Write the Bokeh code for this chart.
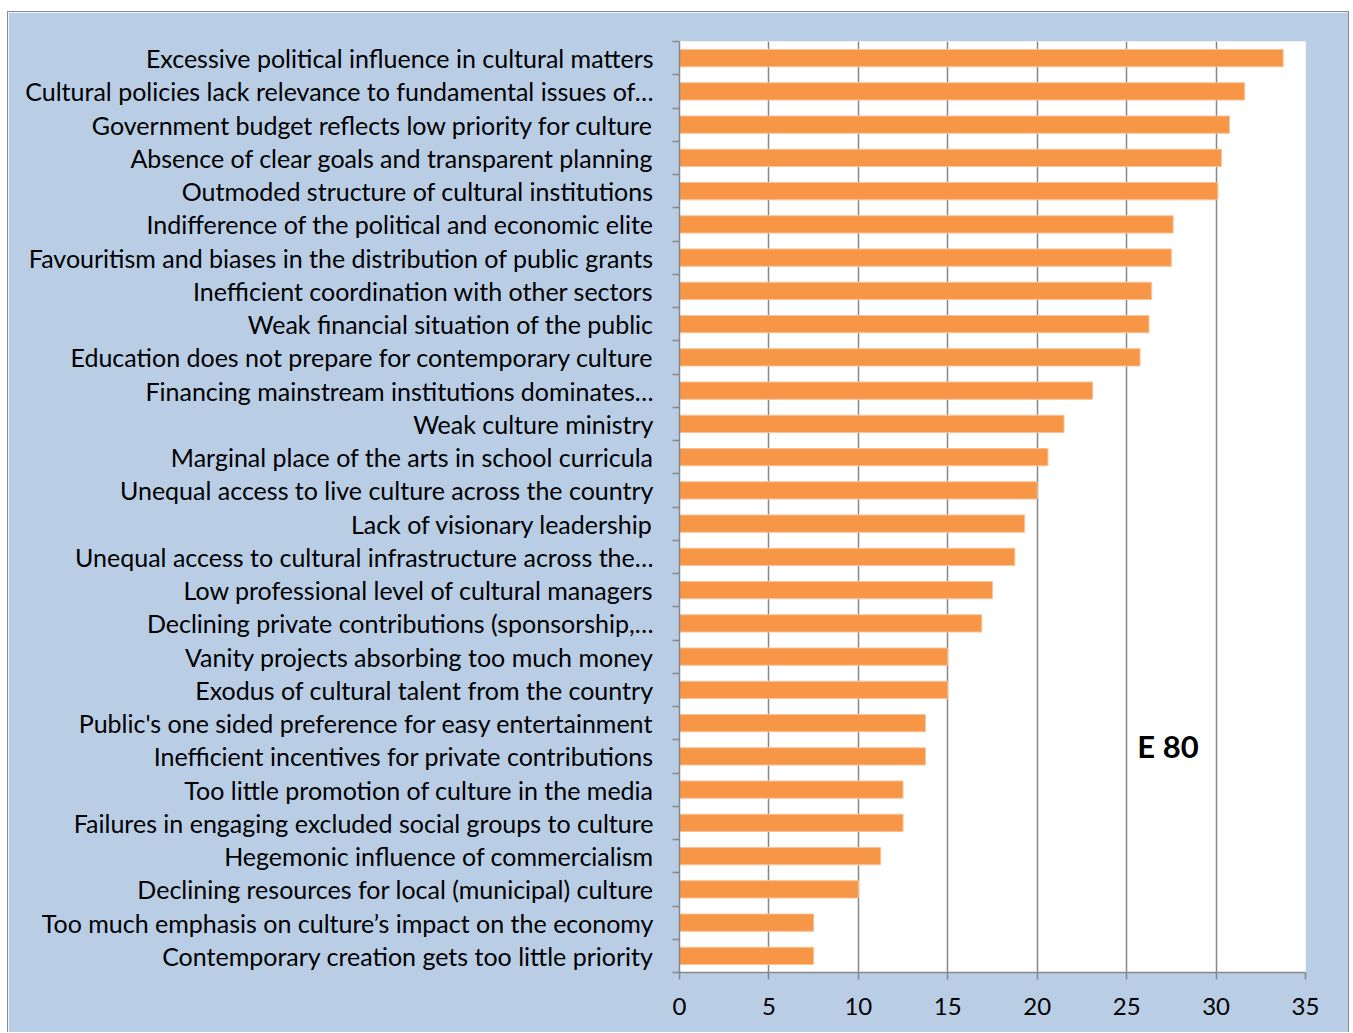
from bokeh.plotting import figure
from bokeh.models import Range1d, FixedTicker, Label, ColumnDataSource
from bokeh.embed import file_html
from bokeh.resources import INLINE

categories = [
    "Excessive political influence in cultural matters",
    "Cultural policies lack relevance to fundamental issues of\u2026",
    "Government budget reflects low priority for culture",
    "Absence of clear goals and transparent planning",
    "Outmoded structure of cultural institutions",
    "Indifference of the political and economic elite",
    "Favouritism and biases in the distribution of public grants",
    "Inefficient coordination with other sectors",
    "Weak financial situation of the public",
    "Education does not prepare for contemporary culture",
    "Financing mainstream institutions dominates\u2026",
    "Weak culture ministry",
    "Marginal place of the arts in school curricula",
    "Unequal access to live culture across the country",
    "Lack of visionary leadership",
    "Unequal access to cultural infrastructure across the\u2026",
    "Low professional level of cultural managers",
    "Declining private contributions (sponsorship,\u2026",
    "Vanity projects absorbing too much money",
    "Exodus of cultural talent from the country",
    "Public's one sided preference for easy entertainment",
    "Inefficient incentives for private contributions",
    "Too little promotion of culture in the media",
    "Failures in engaging excluded social groups to culture",
    "Hegemonic influence of commercialism",
    "Declining resources for local (municipal) culture",
    "Too much emphasis on culture\u2019s impact on the economy",
    "Contemporary creation gets too little priority",
]
values = [33.75, 31.6, 30.75, 30.3, 30.1, 27.6, 27.5, 26.4, 26.25, 25.75,
          23.1, 21.5, 20.6, 20.0, 19.3, 18.75, 17.5, 16.9, 15.0, 15.0,
          13.75, 13.75, 12.5, 12.5, 11.25, 10.0, 7.5, 7.5]
x_ticks = [0, 5, 10, 15, 20, 25, 30, 35]
annotation_text = "E 80"

FONT = "Lato"
GRAY = "#878787"
n = len(categories)
ypos = [n - i - 0.5 for i in range(n)]
src = ColumnDataSource(dict(y=ypos, v=values, cat=categories))

p = figure(width=1342, height=1021, output_backend="svg", toolbar_location=None,
           x_range=Range1d(0, 35), y_range=Range1d(0, n),
           background_fill_color="white", border_fill_color="#B9CDE5",
           min_border_left=671, min_border_right=45, min_border_top=29,
           min_border_bottom=61)
p.margin = (11, 0, 0, 7)
p.styles = {"border-top": "1.5px solid #8a8a8a",
            "border-left": "1.5px solid #8a8a8a",
            "border-right": "1.5px solid #8a8a8a"}
p.outline_line_color = None

p.hbar(y="y", right="v", left=0, height=0.52, source=src,
       fill_color="#F79646", line_color="#FAC49A", line_width=1)

# grid
p.xgrid.ticker = FixedTicker(ticks=x_ticks[1:])
p.xgrid.grid_line_color = GRAY
p.xgrid.grid_line_width = 1.5
p.ygrid.grid_line_color = None

# x axis
xa = p.xaxis[0]
xa.ticker = FixedTicker(ticks=x_ticks, minor_ticks=[])
xa.major_tick_out = 7
xa.major_tick_in = 0
xa.major_tick_line_color = GRAY
xa.major_tick_line_width = 1.5
xa.axis_line_color = GRAY
xa.axis_line_width = 1.5
xa.major_label_text_font = FONT
xa.major_label_text_font_size = "24px"
xa.major_label_text_color = "black"
xa.major_label_standoff = 18

# y axis
ya = p.yaxis[0]
ya.ticker = FixedTicker(ticks=ypos, minor_ticks=list(range(n + 1)))
ya.major_label_overrides = {y: c for y, c in zip(ypos, categories)}
ya.major_tick_out = 0
ya.major_tick_in = 0
ya.minor_tick_out = 7
ya.minor_tick_in = 0
ya.minor_tick_line_color = GRAY
ya.minor_tick_line_width = 1.5
ya.axis_line_color = GRAY
ya.axis_line_width = 1.5
ya.major_label_text_font = FONT
ya.major_label_text_font_size = "25px"
ya.major_label_text_color = "black"
ya.major_label_standoff = 19

p.add_layout(Label(x=25.6, y=6.8, text=annotation_text, text_font=FONT,
                   text_font_style="bold", text_font_size="31px",
                   text_baseline="middle", text_color="black"))

open("out.html", "w").write(file_html(p, INLINE))
